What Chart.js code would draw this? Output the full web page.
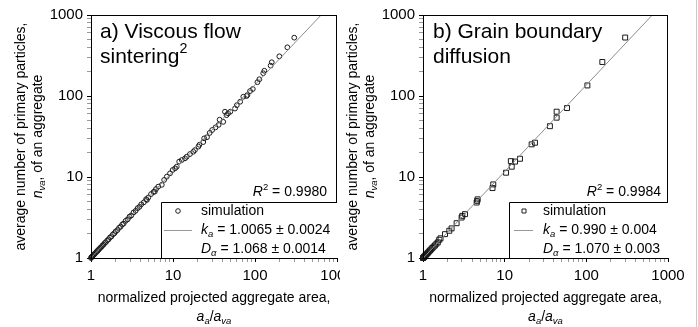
<!DOCTYPE html>
<html>
<head>
  <title>Aggregate size vs projected area</title>
  <script src="https://cdn.jsdelivr.net/npm/chart.js"></script>
  <style>
    body { margin: 0; background: #fff; }
    #wrap { position: relative; width: 698px; height: 327px; overflow: hidden; background: #fff; }
    #chartA { position: absolute; left: 0; top: 0; }
    #chartB { position: absolute; left: 340px; top: 0; background: #fff; }
  </style>
</head>
<body>
<div id="wrap">
  <canvas id="chartA" width="360" height="327"></canvas>
  <canvas id="chartB" width="358" height="327"></canvas>
</div>

<script>
  // a) viscous flow sintering - simulation points (a_a/a_va, n_va)
  const simA_x = [1.00, 1.01, 1.02, 1.03, 1.04, 1.06, 1.08, 1.10, 1.12, 1.15, 1.18, 1.20, 1.23, 1.26, 1.30,
    1.34, 1.38, 1.42, 1.47, 1.52, 1.58, 1.64, 1.70, 1.77, 1.85, 1.93, 2.00, 2.10, 2.20, 2.30,
    2.40, 2.50, 2.65, 2.80, 2.95, 3.10, 3.30, 3.50, 3.70, 3.90, 4.10, 4.40, 4.70, 4.80, 5.00,
    5.40, 5.80, 6.00, 6.20, 6.60, 7.30, 7.80, 8.40, 9.20, 9.90, 10.6, 11.1, 11.9, 12.8, 14.0,
    14.7, 16.1, 17.7, 18.5, 20.4, 21.0, 23.4, 24.0, 26.0, 28.0, 30.0, 33.0, 36.0, 37.0, 41.0,
    43.0, 45.0, 47.0, 50.0, 57.0, 60.0, 66.0, 72.0, 79.0, 81.0, 87.0, 94.0, 107, 113, 126,
    130, 155, 160, 198, 248, 301];
  const simA_y = [1.00, 1.02, 1.03, 1.04, 1.05, 1.07, 1.10, 1.11, 1.14, 1.17, 1.21, 1.22, 1.26, 1.29, 1.34,
    1.37, 1.43, 1.46, 1.53, 1.57, 1.65, 1.70, 1.79, 1.84, 1.96, 2.02, 2.13, 2.21, 2.36, 2.44,
    2.59, 2.66, 2.88, 3.00, 3.24, 3.35, 3.65, 3.82, 4.12, 4.28, 4.60, 4.86, 5.32, 5.20, 5.58,
    6.15, 6.55, 6.60, 7.10, 7.60, 8.00, 9.20, 10.1, 11.1, 12.2, 12.8, 13.4, 15.5, 16.2, 17.0,
    17.8, 19.2, 20.5, 21.5, 23.7, 25.0, 27.0, 30.0, 31.0, 35.0, 38.0, 41.0, 44.0, 51.0, 48.0,
    64.0, 58.0, 61.0, 64.0, 70.0, 77.0, 85.0, 98.0, 100, 103, 115, 122, 148, 161, 191,
    205, 237, 261, 309, 399, 525];
  // fitted power law, end points
  const fitA_x = [1, 1000];
  const fitA_y = [1.0065, 1609];

  // b) grain boundary diffusion
  const simB_x = [1.00, 1.01, 1.02, 1.03, 1.04, 1.05, 1.07, 1.09, 1.12, 1.15, 1.18, 1.22, 1.26, 1.30, 1.35,
    1.40, 1.46, 1.52, 1.58, 1.64, 1.86, 2.10, 2.24, 2.58, 2.97, 3.03, 3.27, 4.54, 4.60, 4.67,
    7.10, 7.25, 10.4, 11.9, 12.2, 13.4, 15.4, 21.4, 23.5, 35.8, 43.3, 43.3, 58.0, 103, 157, 299];
  const simB_y = [1.00, 1.01, 1.02, 1.03, 1.04, 1.05, 1.08, 1.10, 1.13, 1.16, 1.20, 1.24, 1.28, 1.33, 1.38,
    1.43, 1.50, 1.56, 1.68, 1.75, 1.97, 2.17, 2.32, 2.69, 3.16, 3.31, 3.48, 4.84, 5.07, 5.30,
    7.30, 8.10, 11.3, 15.7, 13.4, 15.5, 16.8, 25.3, 26.5, 42.4, 54.0, 64.0, 71.0, 135, 263, 527];
  const fitB_x = [1, 1000];
  const fitB_y = [0.99, 1605];

  // axis ticks
  const tickValues = [1, 2, 3, 4, 5, 6, 7, 8, 9, 10, 20, 30, 40, 50, 60, 70, 80, 90,
    100, 200, 300, 400, 500, 600, 700, 800, 900, 1000];
  const majorTicks = [1, 10, 100, 1000];

  const FONT = "'Liberation Sans', Arial, sans-serif";

  // draw a run of text pieces (italic / sub / sup) as one line
  function drawRich(ctx, segs, x, y, size, align) {
    const parts = segs.map(s => {
      if (typeof s === 'string') s = { t: s };
      const fs = (s.sub || s.sup) ? size * 0.68 : size;
      const font = (s.i ? 'italic ' : '') + fs + 'px ' + FONT;
      ctx.font = font;
      return { t: s.t, font, w: ctx.measureText(s.t).width, dy: s.sub ? size * 0.32 : s.sup ? -size * 0.36 : 0 };
    });
    const total = parts.reduce((a, p) => a + p.w, 0);
    let cx = align === 'center' ? x - total / 2 : align === 'right' ? x - total : x;
    ctx.textAlign = 'left';
    ctx.textBaseline = 'middle';
    parts.forEach(p => { ctx.font = p.font; ctx.fillText(p.t, cx, y + p.dy); cx += p.w; });
  }

  function axis(size, horiz) {
    return {
      type: 'logarithmic',
      min: 1,
      max: 1000,
      afterBuildTicks: s => { s.ticks = tickValues.map(v => ({ value: v })); },
      afterFit: s => { if (horiz) s.height = size; else s.width = size; },
      ticks: {
        autoSkip: false,
        maxRotation: 0,
        padding: horiz ? 5 : 4,
        color: '#000',
        font: { size: 15, family: FONT },
        callback: v => majorTicks.includes(v) ? String(v) : ''
      },
      grid: {
        drawOnChartArea: false,
        tickLength: 4,
        tickColor: c => majorTicks.includes(c.tick.value) ? '#000' : '#999'
      },
      border: { color: '#000', width: 1 }
    };
  }

  function annotations(cfg) {
    return {
      id: 'anno',
      afterDraw(chart) {
        const ctx = chart.ctx;
        const { left, right, top, bottom } = chart.chartArea;
        ctx.save();
        ctx.fillStyle = '#000';
        ctx.strokeStyle = '#000';
        ctx.lineWidth = 1;
        // frame
        ctx.strokeRect(left + 0.5, top + 0.5, right - left - 1, bottom - top);

        // panel title
        drawRich(ctx, cfg.title[0], left + cfg.titleDx, top + 17, 21, 'left');
        drawRich(ctx, cfg.title[1], left + cfg.titleDx, top + 42, 21, 'left');

        // y title (rotated)
        const cy = (top + bottom) / 2;
        [[cfg.yTitle1, left - 70], [cfg.yTitle2, left - 53]].forEach(([segs, x]) => {
          ctx.save();
          ctx.translate(x, cy);
          ctx.rotate(-Math.PI / 2);
          drawRich(ctx, segs, 0, 0, 14, 'center');
          ctx.restore();
        });

        // x title
        const cx = (left + right) / 2;
        drawRich(ctx, ['normalized projected aggregate area,'], cx, bottom + 40, 14, 'center');
        drawRich(ctx, [{ t: 'a', i: 1 }, { t: 'a', i: 1, sub: 1 }, '/', { t: 'a', i: 1 }, { t: 'va', i: 1, sub: 1 }],
          cx, bottom + 59, 14, 'center');

        // R^2
        drawRich(ctx, [{ t: 'R', i: 1 }, { t: '2', sup: 1 }, ' = ' + cfg.r2], right - cfg.r2Dx, bottom - 66, 14, 'right');

        // legend box
        const boxL = right - cfg.boxW;
        const boxT = bottom - 56;
        ctx.fillStyle = '#fff';
        ctx.fillRect(boxL, boxT, right - boxL, bottom - boxT);
        ctx.strokeStyle = '#000';
        ctx.beginPath();
        ctx.moveTo(boxL + 0.5, bottom);
        ctx.lineTo(boxL + 0.5, boxT + 0.5);
        ctx.lineTo(right, boxT + 0.5);
        ctx.stroke();
        ctx.fillStyle = '#000';

        const r1 = bottom - 47, r2 = bottom - 28, r3 = bottom - 9;
        const sL = boxL + cfg.sampleL, sR = boxL + cfg.sampleR, mx = Math.round((sL + sR) / 2);
        ctx.strokeStyle = '#222';
        ctx.beginPath();
        if (cfg.marker === 'circle') ctx.arc(mx, r1, 2.3, 0, Math.PI * 2);
        else ctx.rect(mx - 2, r1 - 2, 4, 4);
        ctx.stroke();
        ctx.strokeStyle = '#999';
        ctx.beginPath();
        ctx.moveTo(sL, r2 + 0.5);
        ctx.lineTo(sR, r2 + 0.5);
        ctx.stroke();

        const tx = boxL + cfg.textDx;
        drawRich(ctx, ['simulation'], tx, r1, 14, 'left');
        drawRich(ctx, [{ t: 'k', i: 1 }, { t: 'a', i: 1, sub: 1 }, ' = ' + cfg.k], tx, r2, 14, 'left');
        drawRich(ctx, [{ t: 'D', i: 1 }, { t: '\u03b1', i: 1, sub: 1 }, ' = ' + cfg.d], tx, r3, 14, 'left');

        if (cfg.edge) {
          ctx.strokeStyle = '#c8c8c8';
          ctx.beginPath();
          ctx.moveTo(chart.width - 1.5, 0);
          ctx.lineTo(chart.width - 1.5, chart.height);
          ctx.stroke();
        }
        ctx.restore();
      }
    };
  }

  function makeChart(id, xs, ys, fx, fy, marker, yWidth, pad, cfg) {
    return new Chart(document.getElementById(id), {
      type: 'scatter',
      data: {
        datasets: [
          {
            label: 'fit',
            data: fx.map((x, i) => ({ x, y: fy[i] })),
            showLine: true,
            borderColor: '#8c8c8c',
            borderWidth: 1,
            pointRadius: 0
          },
          {
            label: 'simulation',
            data: xs.map((x, i) => ({ x, y: ys[i] })),
            pointStyle: marker === 'circle' ? 'circle' : 'rect',
            pointRadius: marker === 'circle' ? 2.4 : 3.5,
            borderColor: '#1a1a1a',
            backgroundColor: 'rgba(0,0,0,0)',
            pointBorderWidth: 1,
            clip: false
          }
        ]
      },
      options: {
        responsive: false,
        animation: false,
        layout: { padding: pad },
        scales: { x: axis(69, true), y: axis(yWidth, false) },
        plugins: { legend: { display: false }, tooltip: { enabled: false } }
      },
      plugins: [annotations(cfg)]
    });
  }

  makeChart('chartA', simA_x, simA_y, fitA_x, fitA_y, 'circle', 91,
    { top: 15, right: 23, left: 0, bottom: 0 },
    {
      title: [['a) Viscous flow'], ['sintering', { t: '2', sup: 1 }]], titleDx: 9,
      yTitle1: ['average number of primary particles,'],
      yTitle2: [{ t: 'n', i: 1 }, { t: 'va', i: 1, sub: 1 }, ', of an aggregate'],
      r2: '0.9980', r2Dx: 10, boxW: 176, sampleL: 3, sampleR: 31, textDx: 40,
      k: '1.0065 \u00b1 0.0024', d: '1.068 \u00b1 0.0014', marker: 'circle'
    });

  makeChart('chartB', simB_x, simB_y, fitB_x, fitB_y, 'rect', 83,
    { top: 15, right: 30, left: 0, bottom: 0 },
    {
      title: [['b) Grain boundary'], ['diffusion']], titleDx: 10,
      yTitle1: ['average number of primary particles,'],
      yTitle2: [{ t: 'n', i: 1 }, { t: 'va', i: 1, sub: 1 }, ', of an aggregate'],
      r2: '0.9984', r2Dx: 7, boxW: 159, sampleL: 5, sampleR: 24, textDx: 34,
      k: '0.990 \u00b1 0.004', d: '1.070 \u00b1 0.003', marker: 'rect', edge: true
    });
</script>
</body>
</html>
